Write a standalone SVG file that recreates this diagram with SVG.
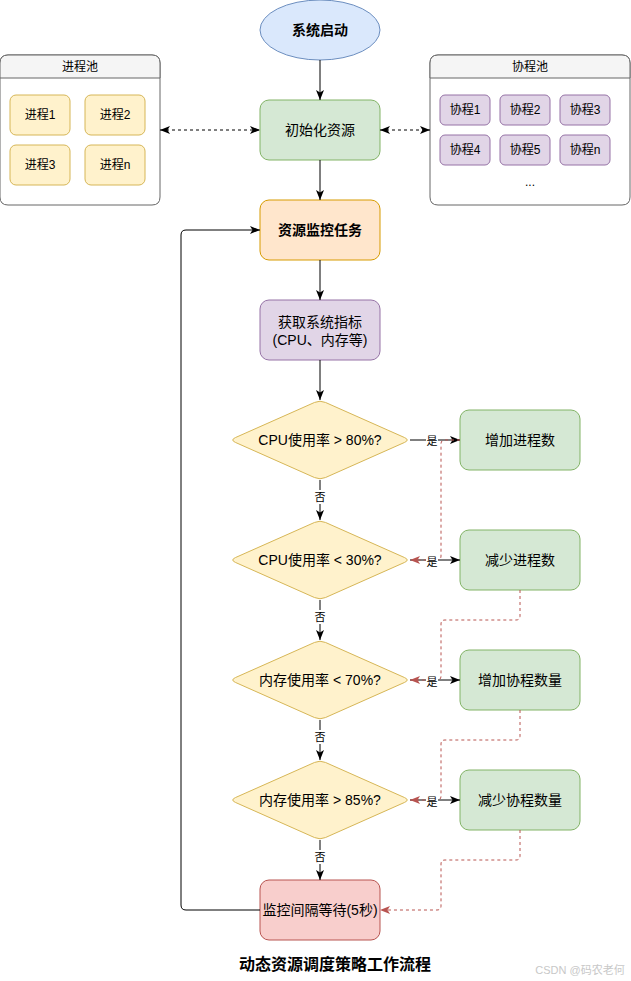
<svg xmlns="http://www.w3.org/2000/svg" width="631" height="981" viewBox="0 0 631 981">
<style>
text{font-family:"Liberation Sans","Noto Sans CJK SC",sans-serif;fill:#000;text-anchor:middle;dominant-baseline:central}
.t14{font-size:14px}
.t12{font-size:12px}
.lbl{font-size:11px}
.b{font-weight:bold}
.pool{fill:#fff;stroke:#666;stroke-width:1}
.hdr{fill:#f5f5f5;stroke:#666;stroke-width:1}
.proc{fill:#fff2cc;stroke:#d6b656}
.coro{fill:#e1d5e7;stroke:#9673a6}
.green{fill:#d5e8d4;stroke:#82b366}
.dia{fill:#fff2cc;stroke:#d6b656}
.edge{fill:none;stroke:#000;stroke-width:1}
.dash{stroke-dasharray:3 3}
.red{fill:none;stroke:#b85450;stroke-width:1;stroke-dasharray:3 3}
.lblbg{fill:#fff}
</style>
<defs>
<marker id="ar" viewBox="0 0 10 10" refX="10" refY="5" markerWidth="10" markerHeight="10" markerUnits="userSpaceOnUse" orient="auto-start-reverse">
<path d="M0,1 L10,5 L0,9 L2.5,5 Z" fill="#000"/>
</marker>
<marker id="arr" viewBox="0 0 10 10" refX="10" refY="5" markerWidth="10" markerHeight="10" markerUnits="userSpaceOnUse" orient="auto">
<path d="M0,1 L10,5 L0,9 L2.5,5 Z" fill="#b85450"/>
</marker>
<path id="dshape" d="M-84.52,-2.44 L-5.48,-37.56 Q0,-40 5.48,-37.56 L84.52,-2.44 Q90,0 84.52,2.44 L5.48,37.56 Q0,40 -5.48,37.56 L-84.52,2.44 Q-90,0 -84.52,-2.44 Z"/>
</defs>

<g id="procPool">
<path class="pool" d="M8,55 H152 Q160,55 160,63 V197 Q160,205 152,205 H8 Q0,205 0,197 V63 Q0,55 8,55 Z"/>
<path class="hdr" d="M0,78 V63 Q0,55 8,55 H152 Q160,55 160,63 V78 Z"/>
<text class="t12" x="80" y="67">进程池</text>
<rect class="proc" x="10" y="95" width="60" height="40" rx="6"/>
<text class="t12" x="40" y="115">进程1</text>
<rect class="proc" x="85" y="95" width="60" height="40" rx="6"/>
<text class="t12" x="115" y="115">进程2</text>
<rect class="proc" x="10" y="145" width="60" height="40" rx="6"/>
<text class="t12" x="40" y="165">进程3</text>
<rect class="proc" x="85" y="145" width="60" height="40" rx="6"/>
<text class="t12" x="115" y="165">进程n</text>
</g>

<g id="coroPool">
<path class="pool" d="M438,55 H622 Q630,55 630,63 V197 Q630,205 622,205 H438 Q430,205 430,197 V63 Q430,55 438,55 Z"/>
<path class="hdr" d="M430,78 V63 Q430,55 438,55 H622 Q630,55 630,63 V78 Z"/>
<text class="t12" x="530" y="67">协程池</text>
<rect class="coro" x="440" y="95" width="50" height="30" rx="5"/>
<text class="t12" x="465" y="110">协程1</text>
<rect class="coro" x="500" y="95" width="50" height="30" rx="5"/>
<text class="t12" x="525" y="110">协程2</text>
<rect class="coro" x="560" y="95" width="50" height="30" rx="5"/>
<text class="t12" x="585" y="110">协程3</text>
<rect class="coro" x="440" y="135" width="50" height="30" rx="5"/>
<text class="t12" x="465" y="150">协程4</text>
<rect class="coro" x="500" y="135" width="50" height="30" rx="5"/>
<text class="t12" x="525" y="150">协程5</text>
<rect class="coro" x="560" y="135" width="50" height="30" rx="5"/>
<text class="t12" x="585" y="150">协程n</text>
<text class="t12" x="530" y="182">...</text>
</g>

<g id="start">
<ellipse cx="320" cy="30" rx="60" ry="30" fill="#dae8fc" stroke="#6c8ebf"/>
<text class="t14 b" x="320" y="30">系统启动</text>
</g>
<g id="init">
<rect class="green" x="260" y="100" width="120" height="60" rx="9"/>
<text class="t14" x="320" y="130">初始化资源</text>
</g>
<g id="monitor">
<rect x="260" y="200" width="120" height="60" rx="9" fill="#ffe6cc" stroke="#d79b00"/>
<text class="t14 b" x="320" y="230">资源监控任务</text>
</g>
<g id="metrics">
<rect x="260" y="300" width="120" height="60" rx="9" fill="#e1d5e7" stroke="#9673a6"/>
<text class="t14" x="320" y="322">获取系统指标</text>
<text class="t14" x="320" y="340">(CPU、内存等)</text>
</g>
<g id="d1">
<use href="#dshape" class="dia" transform="translate(320,440)"/>
<text class="t14" x="320" y="440">CPU使用率 &gt; 80%?</text>
</g>
<g id="d2">
<use href="#dshape" class="dia" transform="translate(320,560)"/>
<text class="t14" x="320" y="560">CPU使用率 &lt; 30%?</text>
</g>
<g id="d3">
<use href="#dshape" class="dia" transform="translate(320,680)"/>
<text class="t14" x="320" y="680">内存使用率 &lt; 70%?</text>
</g>
<g id="d4">
<use href="#dshape" class="dia" transform="translate(320,800)"/>
<text class="t14" x="320" y="800">内存使用率 &gt; 85%?</text>
</g>
<g id="incProc">
<rect class="green" x="460" y="410" width="120" height="60" rx="9"/>
<text class="t14" x="520" y="440">增加进程数</text>
</g>
<g id="decProc">
<rect class="green" x="460" y="530" width="120" height="60" rx="9"/>
<text class="t14" x="520" y="560">减少进程数</text>
</g>
<g id="incCoro">
<rect class="green" x="460" y="650" width="120" height="60" rx="9"/>
<text class="t14" x="520" y="680">增加协程数量</text>
</g>
<g id="decCoro">
<rect class="green" x="460" y="770" width="120" height="60" rx="9"/>
<text class="t14" x="520" y="800">减少协程数量</text>
</g>
<g id="wait">
<rect x="260" y="880" width="120" height="60" rx="9" fill="#f8cecc" stroke="#b85450"/>
<text class="t14" x="320" y="910">监控间隔等待(5秒)</text>
</g>

<g id="connectors">
<line class="edge dash" x1="160" y1="130" x2="260" y2="130" marker-start="url(#ar)" marker-end="url(#ar)"/>
<line class="edge dash" x1="380" y1="130" x2="430" y2="130" marker-start="url(#ar)" marker-end="url(#ar)"/>
<line class="edge" x1="320" y1="60" x2="320" y2="100" marker-end="url(#ar)"/>
<line class="edge" x1="320" y1="160" x2="320" y2="200" marker-end="url(#ar)"/>
<line class="edge" x1="320" y1="260" x2="320" y2="300" marker-end="url(#ar)"/>
<line class="edge" x1="320" y1="360" x2="320" y2="400" marker-end="url(#ar)"/>
<line class="edge" x1="320" y1="480" x2="320" y2="520" marker-end="url(#ar)"/>
<line class="edge" x1="320" y1="600" x2="320" y2="640" marker-end="url(#ar)"/>
<line class="edge" x1="320" y1="720" x2="320" y2="760" marker-end="url(#ar)"/>
<line class="edge" x1="320" y1="840" x2="320" y2="880" marker-end="url(#ar)"/>
<line class="edge" x1="410" y1="440" x2="460" y2="440" marker-end="url(#ar)"/>
<line class="edge" x1="410" y1="560" x2="460" y2="560" marker-end="url(#ar)"/>
<line class="edge" x1="410" y1="680" x2="460" y2="680" marker-end="url(#ar)"/>
<line class="edge" x1="410" y1="800" x2="460" y2="800" marker-end="url(#ar)"/>
<path class="edge" d="M260,910 H186 Q181,910 181,905 V235 Q181,230 186,230 H260" marker-end="url(#ar)"/>
<path class="red" d="M460,440 H445 Q441,440 441,444 V556 Q441,560 437,560 H410" marker-end="url(#arr)"/>
<path class="red" d="M520,590 V616 Q520,620 516,620 H445 Q441,620 441,624 V676 Q441,680 437,680 H410" marker-end="url(#arr)"/>
<path class="red" d="M520,710 V736 Q520,740 516,740 H445 Q441,740 441,744 V796 Q441,800 437,800 H410" marker-end="url(#arr)"/>
<path class="red" d="M520,830 V856 Q520,860 516,860 H445 Q441,860 441,864 V906 Q441,910 437,910 H380" marker-end="url(#arr)"/>
<g id="labels">
<rect class="lblbg" x="426" y="434" width="12" height="13"/><text class="lbl" x="432" y="441">是</text>
<rect class="lblbg" x="426" y="555" width="12" height="13"/><text class="lbl" x="432" y="562">是</text>
<rect class="lblbg" x="426" y="675" width="12" height="13"/><text class="lbl" x="432" y="682">是</text>
<rect class="lblbg" x="426" y="795" width="12" height="13"/><text class="lbl" x="432" y="802">是</text>
<rect class="lblbg" x="314" y="490" width="12" height="14"/><text class="lbl" x="320" y="497">否</text>
<rect class="lblbg" x="314" y="610" width="12" height="14"/><text class="lbl" x="320" y="617">否</text>
<rect class="lblbg" x="314" y="730" width="12" height="14"/><text class="lbl" x="320" y="737">否</text>
<rect class="lblbg" x="314" y="850" width="12" height="14"/><text class="lbl" x="320" y="857">否</text>
</g>
</g>

<text class="b" x="335" y="964" style="font-size:16px">动态资源调度策略工作流程</text>
<text x="580" y="970" style="font-size:11px;fill:#c8c8c8">CSDN @码农老何</text>
</svg>
